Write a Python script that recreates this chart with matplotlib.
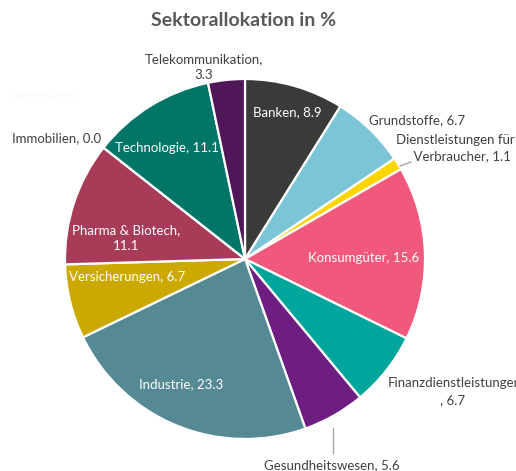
import matplotlib.pyplot as plt

plt.rcParams['font.family'] = ['Lato', 'DejaVu Sans']

# Daten (im Uhrzeigersinn ab 12 Uhr)
sektoren = ["Banken", "Grundstoffe", "Dienstleistungen für Verbraucher", "Konsumgüter",
            "Finanzdienstleistungen", "Gesundheitswesen", "Industrie", "Versicherungen",
            "Pharma & Biotech", "Immobilien", "Technologie", "Telekommunikation"]
werte = [8.9, 6.7, 1.1, 15.6, 6.7, 5.6, 23.3, 6.7, 11.1, 0.0, 11.1, 3.3]
farben = ["#3a3a38", "#7bc5d6", "#ffd500", "#f0587c", "#00a69c", "#6e1e80",
          "#558a94", "#cca900", "#a83c58", "#888888", "#007568", "#4f1658"]

# Label-Texte mit Zeilenumbruch wie im Original
umbrueche = {"Dienstleistungen für Verbraucher": "Dienstleistungen für\n    Verbraucher, {:.1f}",
             "Pharma & Biotech": "Pharma & Biotech,\n{:.1f}",
             "Telekommunikation": "Telekommunikation,\n{:.1f}"}

# Label-Positionen in Pixeln (x, y von oben), Farbe
label_pos = [(287, 112, "white"),
             (417, 120, "#404040"),
             (455, 148, "#404040"),
             (364, 258, "white"),
             (388, 383, "#404040"),
             (332, 465, "#404040"),
             (181, 384, "white"),
             (127, 277, "white"),
             (126, 238, "white"),
             (57, 138, "#404040"),
             (167, 148, "white"),
             (204, 67, "#404040")]

W, H = 516, 471
fig = plt.figure(figsize=(W / 100, H / 100), dpi=100)
ax = fig.add_axes([0, 0, 1, 1])

cx, cy, r = 245, H - 259, 180
ax.pie(werte, colors=farben, startangle=90, counterclock=False,
       center=(cx, cy), radius=r, frame=True,
       wedgeprops=dict(edgecolor="white", linewidth=1.6))
ax.set_xlim(0, W)
ax.set_ylim(0, H)
ax.set_aspect("auto")
ax.axis("off")

for name, wert, (x, y, col) in zip(sektoren, werte, label_pos):
    if name == "Finanzdienstleistungen":
        # wird im Original am rechten Rand abgeschnitten
        ax.text(x, H - y, name, color=col, fontsize=9.5, ha="left", va="center")
        ax.text(452, H - 400, f", {wert:.1f}", color=col, fontsize=9.5,
                ha="center", va="center")
        continue
    txt = umbrueche.get(name, name + ", {:.1f}").format(wert)
    ax.text(x, H - y, txt, color=col, fontsize=9.5, ha="center", va="center",
            linespacing=1.35)

# kaum sichtbares weisses Label
ax.text(43, H - 97, "Technologie", color="#fafafa", fontsize=9.5,
        ha="center", va="center")

# Führungslinien
ax.plot([400, 411], [H - 166, H - 162], color="#a6a6a6", lw=1)
ax.plot([333, 333], [H - 428, H - 453], color="#a6a6a6", lw=1)

fig.text(244 / W, 1 - 20 / H, "Sektorallokation in %", ha="center", va="center",
         fontsize=14, fontweight="bold", color="#595959")

fig.savefig("out.png", dpi=100)
